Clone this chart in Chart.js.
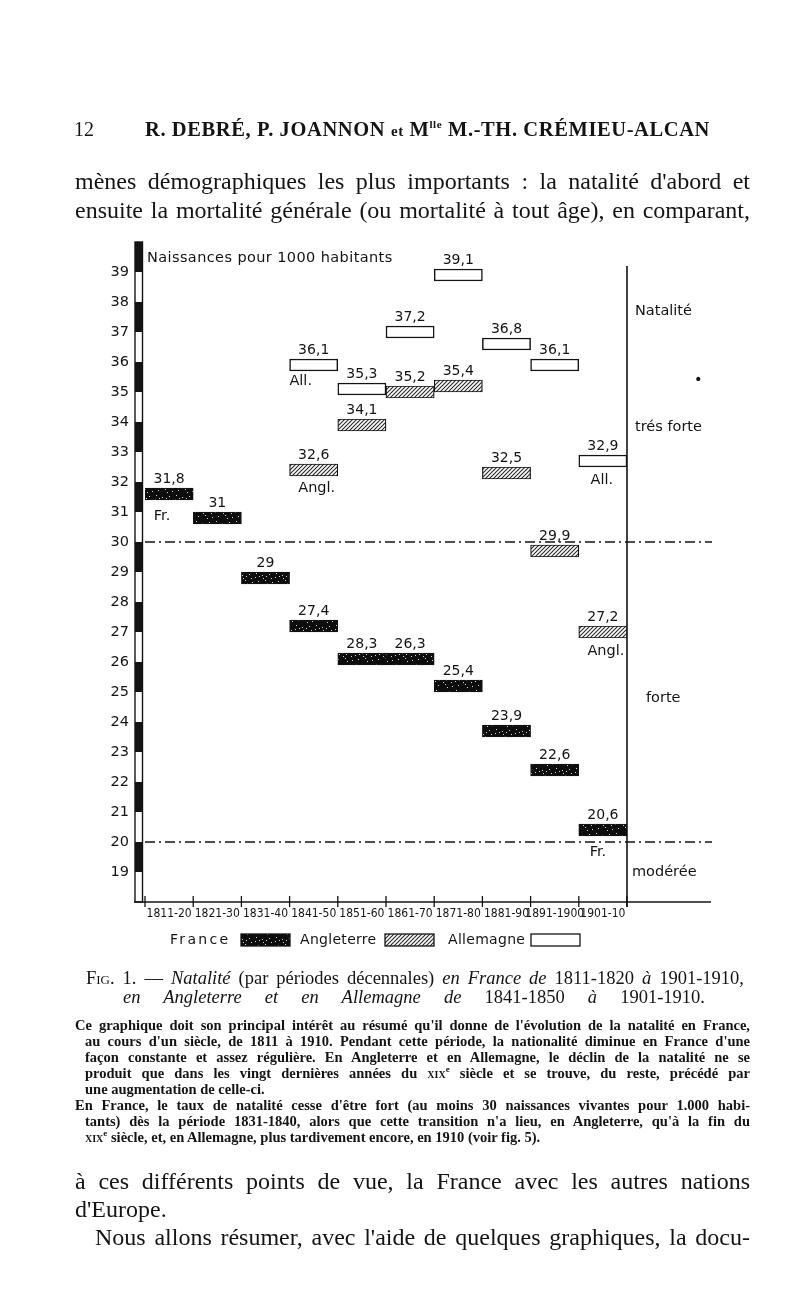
<!DOCTYPE html>
<html>
<head>
<meta charset="utf-8">
<script src="https://cdn.jsdelivr.net/npm/chart.js@4.4.0/dist/chart.umd.min.js"></script>
<style>
html,body{margin:0;padding:0;background:#fff;}
body{width:800px;height:1304px;position:relative;overflow:hidden;font-family:"Liberation Serif","DejaVu Serif",serif;color:#141414;}
#c{position:absolute;left:0;top:0;}
.t{position:absolute;white-space:nowrap;}
.j{position:absolute;text-align:justify;text-align-last:justify;overflow:visible;}
.body{font-size:24px;line-height:28px;}
.small{font-size:14.5px;line-height:16px;font-weight:bold;}
.cap{font-size:18.5px;line-height:20px;}
.sc{font-variant:small-caps;}
sup{line-height:0;}
</style>
</head>
<body>
<canvas id="c" width="800" height="1304"></canvas>

<div class="t" style="left:74px;top:118px;font-size:20px;">12</div>
<div class="t" style="left:145px;top:118px;font-size:20.5px;font-weight:bold;letter-spacing:0.6px;">R. DEBRÉ, P. JOANNON <span style="font-size:15px">et</span> M<sup style="font-size:11px">lle</sup> M.-TH. CRÉMIEU-ALCAN</div>

<div class="j body" style="left:75px;width:675px;top:167px;">mènes démographiques les plus importants : la natalité d'abord et</div>
<div class="j body" style="left:75px;width:675px;top:196px;">ensuite la mortalité générale (ou mortalité à tout âge), en comparant,</div>

<div class="j cap" style="left:86px;width:658px;top:968px;"><span class="sc">Fig.</span> 1. — <i>Natalité</i> (par périodes décennales) <i>en France de</i> 1811-1820 <i>à</i> 1901-1910,</div>
<div class="j cap" style="left:123px;width:582px;top:987px;"><i>en Angleterre et en Allemagne de</i> 1841-1850 <i>à</i> 1901-1910.</div>

<div class="j small" style="left:75px;width:675px;top:1017px;">Ce graphique doit son principal intérêt au résumé qu'il donne de l'évolution de la natalité en France,</div>
<div class="j small" style="left:85px;width:665px;top:1033px;">au cours d'un siècle, de 1811 à 1910. Pendant cette période, la nationalité diminue en France d'une</div>
<div class="j small" style="left:85px;width:665px;top:1049px;">façon constante et assez régulière. En Angleterre et en Allemagne, le déclin de la natalité ne se</div>
<div class="j small" style="left:85px;width:665px;top:1065px;">produit que dans les vingt dernières années du <span class="sc">xix</span><sup style="font-size:9px">e</sup> siècle et se trouve, du reste, précédé par</div>
<div class="t small" style="left:85px;top:1081px;">une augmentation de celle-ci.</div>
<div class="j small" style="left:75px;width:675px;top:1097px;">En France, le taux de natalité cesse d'être fort (au moins 30 naissances vivantes pour 1.000 habi-</div>
<div class="j small" style="left:85px;width:665px;top:1113px;">tants) dès la période 1831-1840, alors que cette transition n'a lieu, en Angleterre, qu'à la fin du</div>
<div class="t small" style="left:85px;top:1129px;"><span class="sc">xix</span><sup style="font-size:9px">e</sup> siècle, et, en Allemagne, plus tardivement encore, en 1910 (voir fig. 5).</div>

<div class="j body" style="left:75px;width:675px;top:1167px;">à ces différents points de vue, la France avec les autres nations</div>
<div class="t body" style="left:75px;top:1195px;">d'Europe.</div>
<div class="j body" style="left:95px;width:655px;top:1223px;">Nous allons résumer, avec l'aide de quelques graphiques, la docu-</div>

<script>
// ---------- data ----------
const periods = ['1811-20','1821-30','1831-40','1841-50','1851-60','1861-70','1871-80','1881-90','1891-1900','1901-10'];
const france     = [31.8, 31, 29, 27.4, 26.3, 26.3, 25.4, 23.9, 22.6, 20.6];
const angleterre = [null, null, null, 32.6, 34.1, 35.2, 35.4, 32.5, 29.9, 27.2];
const allemagne  = [null, null, null, 36.1, 35.3, 37.2, 39.1, 36.8, 36.1, 32.9];
const franceLabels     = ['31,8','31','29','27,4','28,3','26,3','25,4','23,9','22,6','20,6'];
const angleterreLabels = [null,null,null,'32,6','34,1','35,2','35,4','32,5','29,9','27,2'];
const allemagneLabels  = [null,null,null,'36,1','35,3','37,2','39,1','36,8','36,1','32,9'];
const yTickValues = [19,20,21,22,23,24,25,26,27,28,29,30,31,32,33,34,35,36,37,38,39];
const seriesNames = ['France','Angleterre','Allemagne'];
const thresholds = [30, 20];

// ---------- styles ----------
const BAR_DEPTH = 0.4;
const INK = '#141414';
const SANS = '"DejaVu Sans", "Liberation Sans", sans-serif';
const NARROW = '"DejaVu Sans Condensed", "Liberation Sans Narrow", "DejaVu Sans", sans-serif';

const canvas = document.getElementById('c');
const ctx = canvas.getContext('2d');

function francePattern() {
  const c = document.createElement('canvas'); c.width = 20; c.height = 13;
  const g = c.getContext('2d');
  g.fillStyle = '#0d0d0d'; g.fillRect(0, 0, 20, 13);
  g.fillStyle = '#d8d8d8';
  [[2,3],[5,8],[9,2],[12,10],[15,5],[18,9],[7,11],[16,1],[3,6],[11,6],[19,4],[6,4]]
    .forEach(p => g.fillRect(p[0], p[1], 1, 1));
  return ctx.createPattern(c, 'repeat');
}
function hatchPattern() {
  const c = document.createElement('canvas'); c.width = 4; c.height = 4;
  const g = c.getContext('2d');
  g.fillStyle = '#fff'; g.fillRect(0, 0, 4, 4);
  g.strokeStyle = '#2a2a2a'; g.lineWidth = 1.1;
  g.beginPath();
  g.moveTo(0, 4); g.lineTo(4, 0);
  g.moveTo(-1, 1); g.lineTo(1, -1);
  g.moveTo(3, 5); g.lineTo(5, 3);
  g.stroke();
  return ctx.createPattern(c, 'repeat');
}
const fills = [francePattern(), hatchPattern(), '#ffffff'];

const toFloat = arr => arr.map(v => v == null ? null : [v - BAR_DEPTH, v]);

// annotations under some bars: [datasetIndex, index, text, dx, dy]
const tags = [
  [0, 0, 'Fr.', -7, 28], [2, 3, 'All.', -13, 22], [1, 3, 'Angl.', 3, 24],
  [2, 9, 'All.', -1, 25], [1, 9, 'Angl.', 3, 25], [0, 9, 'Fr.', -5, 28]
];

const decor = {
  id: 'decor',
  beforeDatasetsDraw(chart) {
    const c = chart.ctx, x = chart.scales.x, y = chart.scales.y, a = chart.chartArea;
    c.save();
    c.strokeStyle = INK; c.lineWidth = 1.3; c.setLineDash([10, 4, 2, 4]);
    thresholds.forEach(t => {
      const py = y.getPixelForValue(t);
      c.beginPath(); c.moveTo(a.left, py); c.lineTo(712, py); c.stroke();
    });
    c.setLineDash([]);
    c.lineWidth = 1.6;
    c.beginPath(); c.moveTo(a.right, 266); c.lineTo(a.right, a.bottom + 5); c.stroke();
    c.beginPath(); c.moveTo(134, a.bottom); c.lineTo(711, a.bottom); c.stroke();
    c.lineWidth = 1.3;
    for (let i = 0; i <= periods.length; i++) {
      const px = x.getPixelForValue(i - 0.5);
      c.beginPath(); c.moveTo(px, a.bottom - 6); c.lineTo(px, a.bottom + 5); c.stroke();
    }
    const sx = 135, sw = 7.5;
    for (let v = y.min; v < y.max; v++) {
      if (v % 2 === 1) {
        const top = y.getPixelForValue(v + 1), bot = y.getPixelForValue(v);
        c.fillStyle = INK; c.fillRect(sx, top, sw, bot - top);
      }
    }
    c.lineWidth = 1.4;
    c.strokeRect(sx, a.top, sw, a.bottom - a.top);
    c.restore();
  },
  afterDatasetsDraw(chart) {
    const c = chart.ctx;
    const labelSets = [franceLabels, angleterreLabels, allemagneLabels];
    c.save();
    c.fillStyle = INK;
    c.font = '14px ' + SANS;
    c.textAlign = 'center'; c.textBaseline = 'middle';
    labelSets.forEach((labels, di) => {
      const meta = chart.getDatasetMeta(di);
      labels.forEach((t, i) => {
        const el = meta.data[i];
        if (t == null || !el || el.skip) return;
        c.fillText(t, el.x, el.y - 9);
      });
    });
    c.font = '14.5px ' + SANS;
    tags.forEach(([di, i, t, dx, dy]) => {
      const el = chart.getDatasetMeta(di).data[i];
      c.fillText(t, el.x + dx, el.y + dy);
    });
    c.textAlign = 'left';
    c.font = '14.5px ' + SANS;
    c.fillText('Natalité', 635, 311);
    c.fillText('trés forte', 635, 427);
    c.fillText('forte', 646, 698);
    c.fillText('modérée', 632, 872);
    c.fillText('•', 694, 380);
    c.font = '14.5px ' + SANS;
    c.letterSpacing = '0.4px';
    c.fillText('Naissances pour 1000 habitants', 147, 258);
    c.font = '14px ' + SANS;
    c.letterSpacing = '2.3px';
    c.fillText(seriesNames[0], 170, 940);
    c.letterSpacing = '0.3px';
    c.fillText(seriesNames[1], 300, 940);
    c.fillText(seriesNames[2], 448, 940);
    const boxes = [[241, 49], [385, 49], [531, 49]];
    boxes.forEach(([bx, bw], k) => {
      c.fillStyle = fills[k]; c.fillRect(bx, 934, bw, 12);
      c.strokeStyle = INK; c.lineWidth = 1.3; c.strokeRect(bx, 934, bw, 12);
    });
    c.restore();
  }
};

Chart.defaults.font.family = SANS;

new Chart(ctx, {
  type: 'bar',
  data: {
    labels: periods,
    datasets: [
      { label: seriesNames[0], data: toFloat(france), backgroundColor: fills[0], borderColor: INK, borderWidth: 1,
        grouped: false, categoryPercentage: 1, barPercentage: 1, borderSkipped: false },
      { label: seriesNames[1], data: toFloat(angleterre), backgroundColor: fills[1], borderColor: INK, borderWidth: 1.2,
        grouped: false, categoryPercentage: 1, barPercentage: 1, borderSkipped: false },
      { label: seriesNames[2], data: toFloat(allemagne), backgroundColor: fills[2], borderColor: INK, borderWidth: 1.5,
        grouped: false, categoryPercentage: 1, barPercentage: 1, borderSkipped: false }
    ]
  },
  options: {
    responsive: false,
    animation: false,
    events: [],
    layout: { padding: { left: 0, right: 173, top: 242, bottom: 372 } },
    plugins: { legend: { display: false }, tooltip: { enabled: false }, title: { display: false } },
    scales: {
      x: {
        type: 'category', offset: true,
        grid: { display: false, drawTicks: false },
        border: { display: false },
        ticks: { autoSkip: false, maxRotation: 0, minRotation: 0, padding: 5, color: INK,
                 font: { family: NARROW, size: 12 } },
        afterFit: s => { s.height = 30; }
      },
      y: {
        min: 18, max: 40,
        grid: { display: false, drawTicks: false },
        border: { display: false },
        afterBuildTicks: s => { s.ticks = yTickValues.map(v => ({ value: v })); },
        ticks: { padding: 16, color: INK, font: { size: 14.5 }, callback: v => String(v) },
        afterFit: s => { s.width = 145; }
      }
    }
  },
  plugins: [decor]
});
</script>
</body>
</html>
